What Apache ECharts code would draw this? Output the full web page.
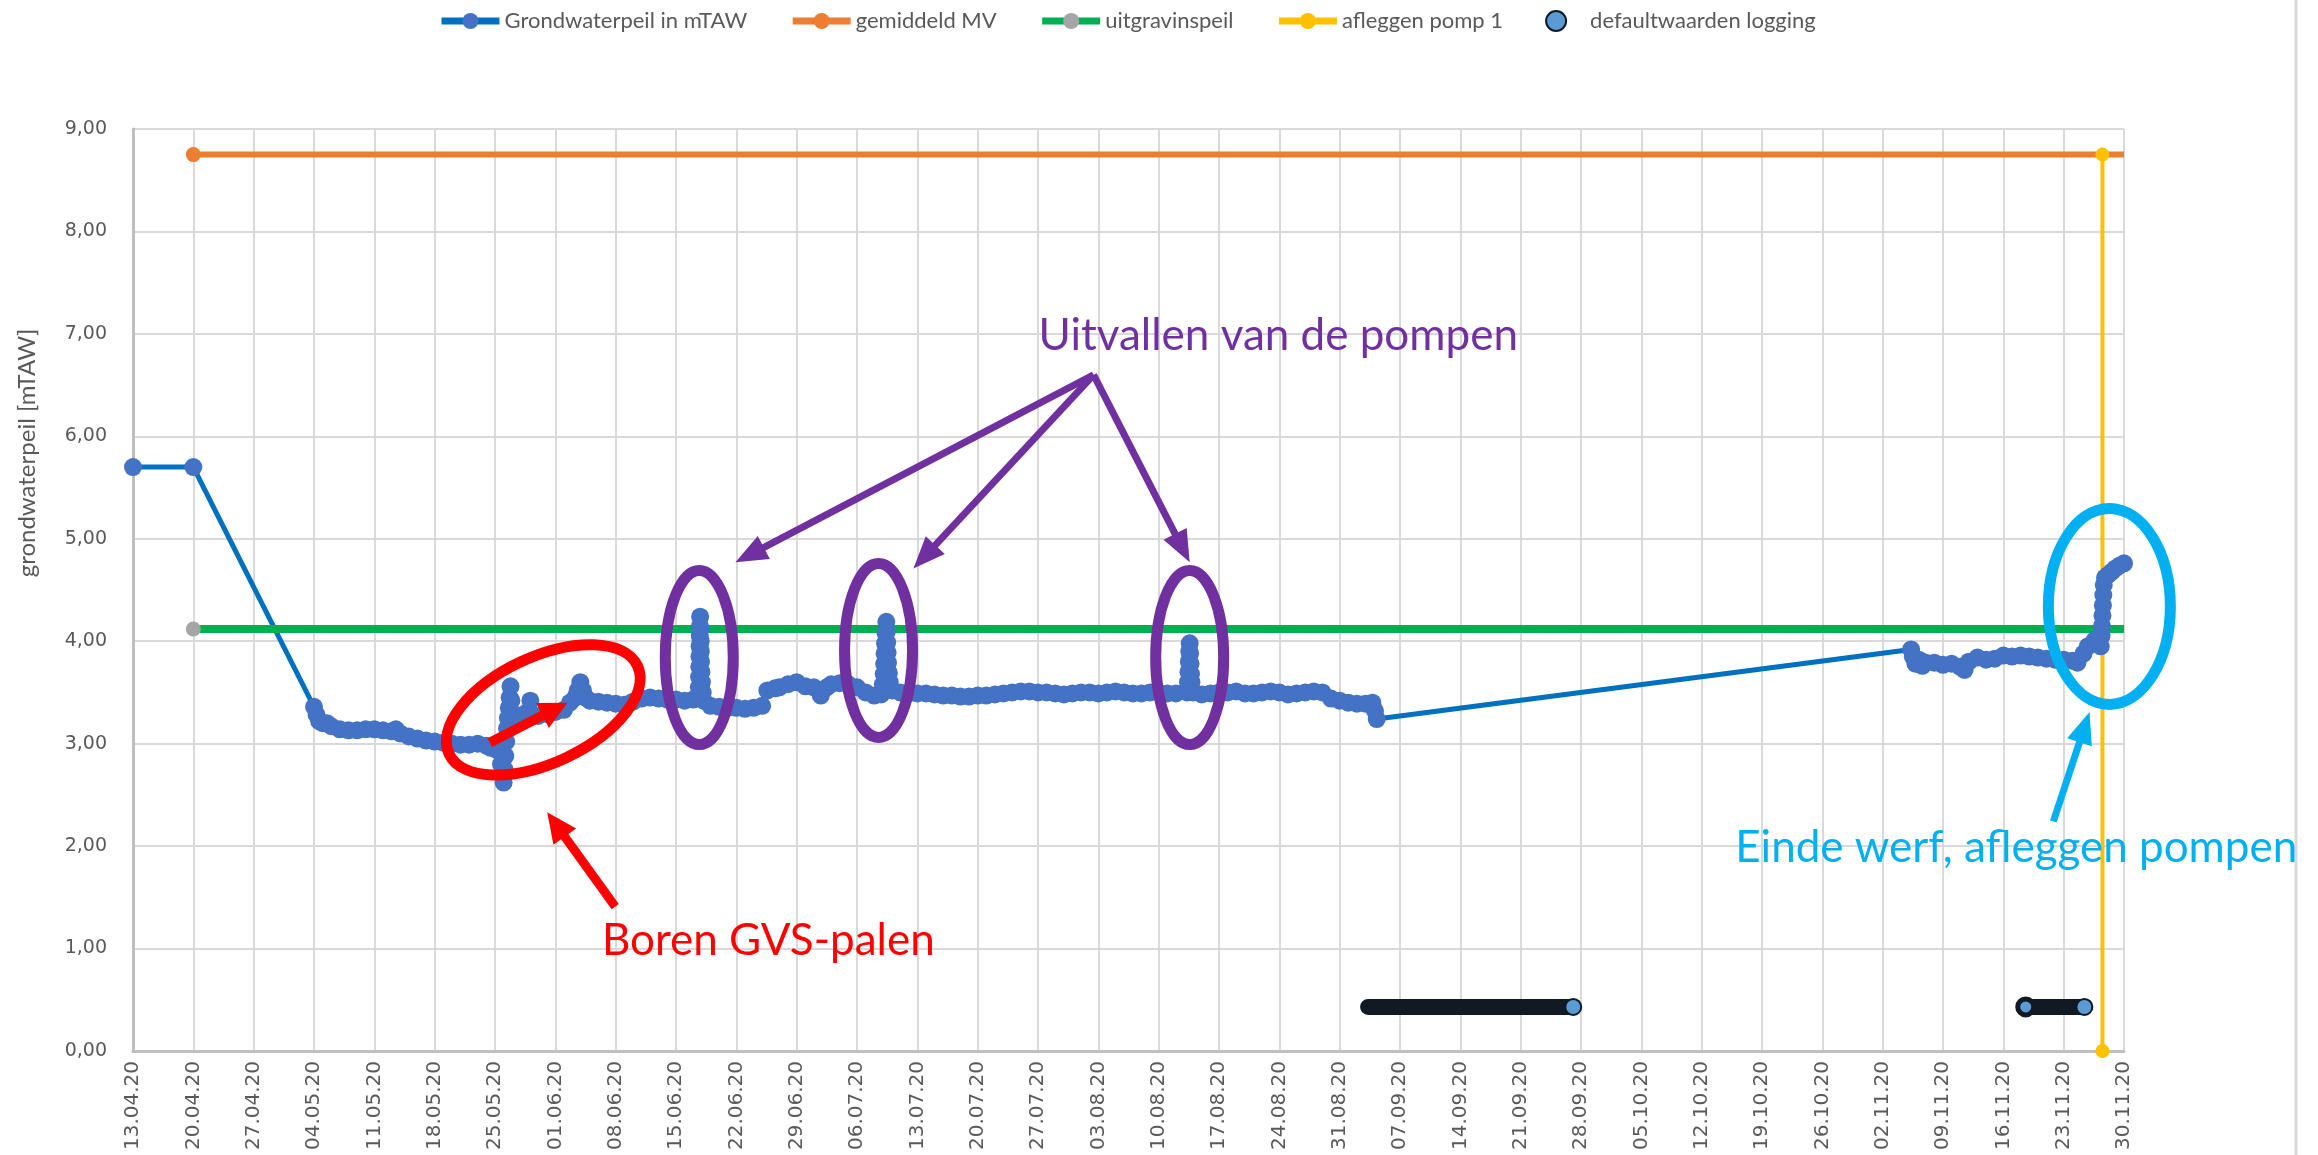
<!DOCTYPE html>
<html>
<head>
<meta charset="utf-8">
<title>Grondwaterpeil</title>
<script src="https://cdn.jsdelivr.net/npm/echarts@6/dist/echarts.min.js"></script>
<style>
html,body{margin:0;padding:0;background:#fff;}
#chart{width:2318px;height:1155px;}
</style>
</head>
<body>
<div id="chart"></div>
<script>
// x values: days counted from 13.04.2020
var startDate = Date.UTC(2020, 3, 13);

var gwDays = [
	0, 7,
	21, 21.3, 21.6, 22, 22.5, 23, 24, 25, 26, 27, 28, 29, 30, 30.5, 31, 32, 33, 34, 35, 36, 37, 38, 39, 40, 41, 41.5, 42,
	42.4, 42.7, 43, 43.1, 43.2, 43.3, 43.4, 43.5, 43.6, 43.7, 43.8, 43.9, 44, 44.2, 44.5, 45, 45.6, 46.1, 46.5, 47, 48, 49, 50, 50.7,
	51.3, 51.6, 51.9, 52.2, 52.5,
	53, 54, 55, 56, 57, 58, 59, 60, 61, 62, 63, 64, 65,
	65.6, 65.65, 65.68, 65.7, 65.72, 65.74, 65.76, 65.78, 65.8, 65.84, 65.86, 65.88, 65.9, 65.95, 66, 66.1, 66.2,
	67, 68, 69, 70, 71, 72, 73, 73.6, 74.5, 75, 76, 77, 78, 79, 79.8, 80.5, 81, 82, 83, 84, 85, 86,
	86.8, 87, 87.1, 87.15, 87.2, 87.25, 87.3, 87.4, 87.45, 87.5, 87.55, 87.6, 87.7, 87.8, 88.1,
	89, 90, 91, 92, 93, 94, 95, 96, 97, 98, 99, 100, 101, 102, 103, 104, 105, 106, 107,
	108, 109, 110, 111, 112, 113, 114, 115, 116, 117, 118, 119, 120, 121,
	122.3, 122.4, 122.45, 122.5, 122.55, 122.6, 122.65, 122.7, 122.75, 122.8, 123,
	124, 125, 126, 127, 128, 129, 130, 131, 132, 133, 134, 135, 136, 137, 138,
	139, 140, 141, 142, 143, 143.8, 144.1, 144.3,
	206.3, 206.5, 206.8, 207.2, 207.6, 208, 209, 210, 211, 212, 212.5,
	213, 214, 215, 216, 217, 218, 219, 220, 221, 222, 223, 224, 225, 225.6,
	226.3, 226.8, 227.6, 228.3, 228.4, 228.45, 228.5, 228.55, 228.6, 228.65, 228.8, 229.2, 229.6, 230, 230.5, 231
];
var gwLevels = [
	5.70, 5.70,
	3.36, 3.28, 3.22, 3.20, 3.20, 3.17, 3.14, 3.13, 3.13, 3.14, 3.14, 3.13, 3.12, 3.14, 3.10, 3.07, 3.05, 3.03, 3.02, 3.01, 3.00, 2.99, 2.99, 3.00, 2.98, 2.96, 2.95,
	2.93, 2.80, 2.62, 2.75, 2.88, 3.02, 3.15, 3.25, 3.35, 3.45, 3.56, 3.42, 3.30, 3.25, 3.22, 3.24, 3.30, 3.42, 3.28, 3.27, 3.29, 3.31, 3.33, 3.40,
	3.45, 3.52, 3.60, 3.52, 3.45,
	3.42, 3.41, 3.40, 3.39, 3.38, 3.41, 3.44, 3.45, 3.44, 3.43, 3.43, 3.42, 3.43,
	3.45, 3.55, 3.65, 3.75, 3.85, 3.95, 4.05, 4.15, 4.24, 4.12, 4.00, 3.90, 3.80, 3.70, 3.60, 3.50, 3.42,
	3.37, 3.36, 3.35, 3.35, 3.34, 3.35, 3.37, 3.52, 3.54, 3.55, 3.58, 3.60, 3.56, 3.55, 3.47, 3.55, 3.58, 3.59, 3.58, 3.55, 3.50, 3.47,
	3.48, 3.58, 3.68, 3.78, 3.88, 3.98, 4.08, 4.19, 4.09, 3.99, 3.89, 3.79, 3.69, 3.60, 3.52,
	3.50, 3.49, 3.49, 3.49, 3.48, 3.47, 3.47, 3.46, 3.46, 3.47, 3.47, 3.48, 3.49, 3.50, 3.51, 3.51, 3.50, 3.50, 3.49,
	3.48, 3.49, 3.50, 3.50, 3.49, 3.50, 3.51, 3.50, 3.49, 3.49, 3.50, 3.50, 3.49, 3.49,
	3.50, 3.60, 3.70, 3.80, 3.90, 3.98, 3.88, 3.78, 3.68, 3.60, 3.50,
	3.48, 3.49, 3.50, 3.50, 3.51, 3.49, 3.49, 3.50, 3.51, 3.50, 3.48, 3.49, 3.50, 3.51, 3.50,
	3.44, 3.42, 3.40, 3.39, 3.39, 3.40, 3.32, 3.24,
	3.92, 3.85, 3.78, 3.82, 3.76, 3.79, 3.79, 3.77, 3.78, 3.75, 3.72,
	3.80, 3.84, 3.82, 3.83, 3.86, 3.85, 3.86, 3.85, 3.84, 3.83, 3.82, 3.82, 3.81, 3.79,
	3.88, 3.95, 4.01, 3.95, 4.05, 4.15, 4.25, 4.35, 4.45, 4.55, 4.62, 4.65, 4.68, 4.71, 4.74, 4.76
];

var mvDays = [7, 231];
var mvLevels = [8.75, 8.75];

var uitgravDays = [7, 231];
var uitgravLevels = [4.12, 4.12];

var pompDays = [228.5, 228.5];
var pompLevels = [8.75, 0];

// null = gap between the two logging periods
var logDays = [143.3, 167.1, null, 219.6, 226.4];
var logLevels = [0.43, 0.43, null, 0.43, 0.43];

var seriesNames = ['Grondwaterpeil in mTAW', 'gemiddeld MV', 'uitgravinspeil', 'afleggen pomp 1', 'defaultwaarden logging'];

function zip(xs, ys) {
	return xs.map(function (x, i) {
		return x == null ? [185, '-'] : [x, ys[i]];
	});
}
function dateLabel(d) {
	var t = new Date(startDate + d * 86400000);
	var dd = ('0' + t.getUTCDate()).slice(-2);
	var mm = ('0' + (t.getUTCMonth() + 1)).slice(-2);
	return dd + '.' + mm + '.' + String(t.getUTCFullYear()).slice(2);
}

var grey = '#595959';
var logColor = '#111922';

var mvData = zip(mvDays, mvLevels).map(function (p, i) {
	return i === 0 ? {value: p} : {value: p, symbol: 'none'};
});
var uitgravData = zip(uitgravDays, uitgravLevels).map(function (p, i) {
	return i === 0 ? {value: p} : {value: p, symbol: 'none'};
});
var logData = zip(logDays, logLevels).map(function (p, i) {
	if (i === 0) return {value: p, symbol: 'none'};
	if (i === 3) return {value: p, itemStyle: {borderWidth: 5}};
	return {value: p};
});

var chart = echarts.init(document.getElementById('chart'));
chart.setOption({
	animation: false,
	backgroundColor: '#fff',
	grid: {left: 133, right: 194, top: 129, bottom: 104, containLabel: false, outerBoundsMode: 'none'},
	legend: {
		left: 433, top: 5,
		itemWidth: 58, itemHeight: 20, itemGap: 42,
		lineStyle: {width: 7},
		textStyle: {fontFamily: 'Lato', fontSize: 22, color: grey},
		data: [
			seriesNames[0], seriesNames[1], seriesNames[2], seriesNames[3],
			{name: seriesNames[4], icon: 'circle', symbolKeepAspect: true,
				itemStyle: {color: '#5B9BD5', borderColor: logColor, borderWidth: 2}}
		]
	},
	xAxis: {
		type: 'value', min: 0, max: 231, interval: 7,
		axisLine: {show: true, lineStyle: {color: '#BFBFBF', width: 3}},
		axisTick: {show: false},
		splitLine: {show: true, lineStyle: {color: '#D9D9D9', width: 2}},
		axisLabel: {
			rotate: 90, margin: 10, color: grey,
			fontFamily: 'DejaVu Sans', fontSize: 20,
			formatter: dateLabel
		}
	},
	yAxis: {
		type: 'value', min: 0, max: 9, interval: 1,
		axisLine: {show: true, lineStyle: {color: '#BFBFBF', width: 3}},
		axisTick: {show: false},
		splitLine: {show: true, lineStyle: {color: '#D9D9D9', width: 2}},
		axisLabel: {
			margin: 26, color: grey,
			fontFamily: 'DejaVu Sans', fontSize: 19,
			formatter: function (v) { return v.toFixed(2).replace('.', ','); }
		}
	},
	series: [
		{
			name: seriesNames[0], type: 'line', data: zip(gwDays, gwLevels),
			symbol: 'circle', symbolSize: 18, showAllSymbol: true,
			itemStyle: {color: '#4472C4'},
			lineStyle: {color: '#0070C0', width: 5}
		},
		{
			name: seriesNames[1], type: 'line', data: mvData,
			symbol: 'circle', symbolSize: 15,
			itemStyle: {color: '#ED7D31'},
			lineStyle: {color: '#ED7D31', width: 6}
		},
		{
			name: seriesNames[2], type: 'line', data: uitgravData,
			symbol: 'circle', symbolSize: 15,
			itemStyle: {color: '#A5A5A5'},
			lineStyle: {color: '#00B050', width: 8}
		},
		{
			name: seriesNames[3], type: 'line', data: zip(pompDays, pompLevels),
			symbol: 'circle', symbolSize: 14,
			itemStyle: {color: '#FFC000'},
			lineStyle: {color: '#FFC000', width: 4}
		},
		{
			name: seriesNames[4], type: 'line', data: logData, connectNulls: false,
			symbol: 'circle', symbolSize: 16,
			itemStyle: {color: '#5B9BD5', borderColor: logColor, borderWidth: 2},
			lineStyle: {color: logColor, width: 16, cap: 'round'}
		}
	]
});

// annotations, anchored in data coordinates [day, level]
function px(p) {
	return chart.convertToPixel({gridIndex: 0}, p);
}
function arrow(from, to, color, width, headLen, headW) {
	var a = px(from), b = px(to);
	var dx = b[0] - a[0], dy = b[1] - a[1];
	var len = Math.sqrt(dx * dx + dy * dy);
	var ux = dx / len, uy = dy / len;
	var bx = b[0] - ux * headLen, by = b[1] - uy * headLen;
	return [
		{type: 'line', z: 100, shape: {x1: a[0], y1: a[1], x2: bx + ux * 2, y2: by + uy * 2}, style: {stroke: color, lineWidth: width}},
		{type: 'polygon', z: 100, shape: {points: [b, [bx - uy * headW / 2, by + ux * headW / 2], [bx + uy * headW / 2, by - ux * headW / 2]]}, style: {fill: color}}
	];
}
function ring(c, rx, ry, deg, color, width) {
	var p = px(c);
	return {type: 'ellipse', z: 100, x: p[0], y: p[1], rotation: deg * Math.PI / 180,
		shape: {cx: 0, cy: 0, rx: rx, ry: ry}, style: {fill: 'none', stroke: color, lineWidth: width}};
}
function label(pos, text, color) {
	var p = px(pos);
	return {type: 'text', z: 100, x: p[0], y: p[1],
		style: {text: text, fill: color, fontFamily: 'Lato', fontSize: 44, align: 'left', verticalAlign: 'middle'}};
}

var purple = '#7030A0', red = '#FF0000', cyan = '#00B0F0';
var g = [];
g.push({type: 'text', x: 27, y: 453, rotation: Math.PI / 2,
	style: {text: 'grondwaterpeil [mTAW]', fill: grey, fontFamily: 'Lato', fontSize: 24, align: 'center', verticalAlign: 'middle'}});
g.push({type: 'line', shape: {x1: 2296, y1: 0, x2: 2296, y2: 1155}, style: {stroke: '#D9D9D9', lineWidth: 3}});

g.push(ring([65.7, 3.84], 34, 87, 0, purple, 11));
g.push(ring([86.5, 3.91], 34, 87, 0, purple, 11));
g.push(ring([122.6, 3.84], 34, 87, 0, purple, 11));
g = g.concat(arrow([111.45, 6.60], [69.9, 4.77], purple, 7, 32, 26));
g = g.concat(arrow([111.45, 6.60], [90.55, 4.71], purple, 7, 32, 26));
g = g.concat(arrow([111.45, 6.60], [122.6, 4.77], purple, 7, 32, 26));
g.push(label([105.06, 6.98], 'Uitvallen van de pompen', purple));

g.push(ring([47.6, 3.33], 104, 53, 25, red, 11));
g = g.concat(arrow([41.4, 3.01], [50.4, 3.40], red, 10, 28, 28));
g = g.concat(arrow([55.95, 1.41], [48.06, 2.33], red, 9, 30, 28));
g.push(label([54.4, 1.08], 'Boren GVS-palen', red));

g.push(ring([229.3, 4.34], 61, 98, 0, cyan, 11));
g = g.concat(arrow([222.8, 2.24], [227.0, 3.31], cyan, 7, 32, 26));
g.push(label([185.9, 1.98], 'Einde werf, afleggen pompen', cyan));

chart.setOption({graphic: g});
</script>
</body>
</html>
